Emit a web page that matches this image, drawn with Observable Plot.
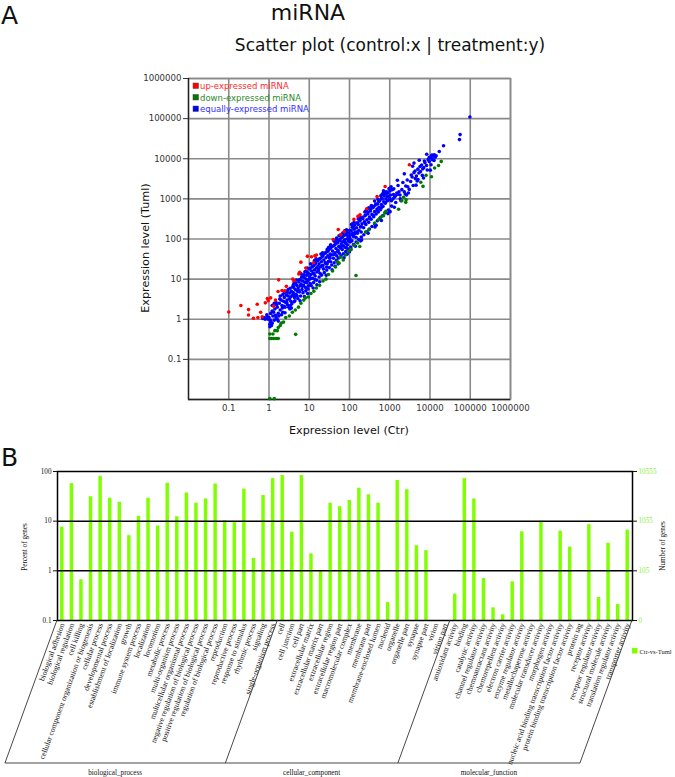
<!DOCTYPE html>
<html><head><meta charset="utf-8">
<script src="https://cdn.jsdelivr.net/npm/d3@7"></script>
<script src="https://cdn.jsdelivr.net/npm/@observablehq/plot@0.6"></script>
<style>
body{margin:0;background:#fff;}
#root{position:relative;width:675px;height:777px;overflow:hidden;background:#fff;}
#root svg{position:absolute;left:0;}
</style></head><body><div id="root"></div>
<script>
// ---------- Panel A data (control x, treatment y) ----------
const scatterTicks = [0.1, 1, 10, 100, 1000, 10000, 100000, 1000000];
const legendLabelsA = ["up-expressed miRNA", "down-expressed miRNA", "equally-expressed miRNA"];
const legendColorsA = ["#ff0000", "#007a00", "#0000ff"];
const legendTextColorsA = ["#ff2a2a", "#2a8a2a", "#3030ff"];

const upPoints = [[0.1,1.52],[0.2,2.2],[0.31,1.74],[0.31,1.28],[0.41,1.06],[0.51,2.37],[0.53,1.1],[0.62,1.5],[0.68,1.15],[0.81,2.56],[0.91,3.3],[0.96,2.9],[1.74,9.6],[1.68,4.9],[2.1,5.2],[2.45,5.1],[2.7,6.6],[3.9,10.1],[4.2,9.2],[5.5,13.5],[5.8,14.9],[6.2,26.5],[8.2,18.8],[9.0,37],[11.4,36],[12.8,25.5],[13.8,38],[15.1,40],[39.4,97],[52.6,173],[60,127],[74,154],[129,308],[162,370],[183,401],[268,567],[484,1150],[767,2040],[3080,7100],[1.3,2.1],[1.1,3.4],[1.45,3.0]];

const downPoints = [[1.05,0.33],[1.15,0.33],[1.3,0.33],[1.5,0.33],[1.7,0.33],[1.05,0.43],[1.25,0.43],[1.4,0.52],[1.6,0.52],[1.7,0.62],[1.9,0.7],[2.0,0.8],[2.3,0.85],[4.6,0.42],[1.05,0.0105],[1.35,0.0105],[2.6,1.1],[3.2,1.2],[3.8,1.5],[4.5,1.7],[5.4,2.0],[6.2,2.5],[7.3,3.0],[8.0,3.4],[9.5,3.6],[11,4.4],[13,5.0],[15,6.0],[18,7.0],[22,9.0],[26,10],[30,13],[38,16],[45,20],[55,25],[50,27],[60,35],[70,30],[80,40],[95,50],[145,12.3],[110,55],[130,70],[160,80],[180,65],[250,150],[300,170],[420,250],[520,300],[600,350],[700,380],[750,450],[800,490],[1660,550],[2550,950],[2000,900],[2500,820],[5900,2600],[6700,2050],[8000,3860],[10900,3570],[13000,5900],[16300,6800],[19000,8600],[2200,1100]];

const equalPoints = [[0.7,1.05],[0.75,1.1],[0.8,1.0],[0.85,1.05],[0.9,1.15],[0.95,1.0],[1.0,1.1],[0.88,1.3],
[1.05,0.65],[1.05,0.75],[1.1,0.85],[1.08,0.95],[1.15,0.7],[1.2,0.8],[1.25,1.2],[1.1,1.4],[1.2,1.6],[1.3,1.5],[1.35,0.95],[1.4,1.8],[1.45,1.25],
[1.5,1.1],[1.6,2.0],[1.7,1.4],[1.8,2.5],[1.9,1.7],[2.0,3.0],[2.1,2.2],[2.2,1.5],[2.3,2.8],[2.4,3.5],[2.5,2.0],[2.6,2.6],[2.7,4.0],[2.8,3.0],[2.9,2.3],[3.0,3.8],[1.6,1.0],[1.75,1.2],[2.05,1.3],[1.55,2.3],[1.85,3.2],[2.15,1.9],
[3.2,3.2],[3.3,4.5],[3.5,2.8],[3.6,5.0],[3.8,3.9],[4.0,4.6],[4.1,6.2],[4.3,3.5],[4.5,5.5],[4.7,4.2],[4.9,7.0],[5.1,5.0],[5.3,6.0],[5.5,8.5],[5.7,4.8],[5.9,6.8],[3.4,2.2],[4.4,2.9],[3.9,6.5],[5.0,3.8],[6.0,9.5],
[6.3,7.5],[6.6,5.5],[6.9,9.0],[7.2,7.0],[7.5,11],[7.8,8.3],[8.1,6.2],[8.4,10],[8.7,12.5],[9.0,8.8],[9.4,14],[9.8,9.8],[10.2,11.5],[10.6,7.8],[11,13],[11.5,16],[12,10.5],[6.8,12],[8.0,15.5],[9.5,6.8],[11.8,20],[10.0,18],
[12.5,14],[13,22],[13.5,17],[14,12],[14.5,26],[15,19],[15.5,15],[16,30],[16.5,21],[17,17.5],[17.5,24],[18,32],[19,20],[20,27],[21,36],[22,22],[23,30],[24,44],[25,26],[13.8,9.8],[18.5,14],[22.5,18],
[26,34],[27,48],[28,24],[29,38],[30,28],[31,55],[32,35],[33,42],[34,27],[35,62],[36,40],[38,50],[40,33],[42,70],[44,45],[46,58],[48,38],[50,80],[27,20],[41,90],[47,100],
[52,52],[54,65],[56,44],[58,90],[60,60],[62,75],[64,110],[66,55],[68,85],[70,68],[72,120],[75,95],[78,62],[80,78],[83,130],[86,100],[89,72],[92,115],[95,88],[98,140],[55,120],[85,60],
[102,105],[105,125],[110,160],[115,90],[120,140],[125,115],[130,175],[135,135],[140,150],[145,110],[150,190],[158,140],[165,230],[172,165],[180,280],[188,200],[195,150],[105,85],[170,310],[185,330],[125,200],
[205,240],[215,320],[225,190],[235,270],[245,380],[255,230],[270,300],[285,420],[300,260],[315,350],[330,500],[345,310],[360,410],[380,600],[400,360],[420,480],[440,700],[460,420],[480,560],[500,750],[350,650],[300,600],
[520,470],[540,620],[560,880],[590,540],[620,720],[650,1000],[680,650],[710,850],[740,1300],[770,780],[800,1000],[840,1500],[880,900],[920,1150],[960,1800],[990,1050],[600,1200],[700,1600],[900,1400],[860,1150],
[1050,1250],[1100,900],[1200,1000],[1300,1100],[1500,1400],[1600,1300],[1700,1500],[1800,1250],[2000,1700],[2300,1500],[2500,2100],[2800,2000],[1400,1200],[1150,1700],
[3300,2700],[3600,3500],[4000,4500],[4300,3200],[4600,3700],[5000,5500],[5300,4400],[5800,4800],[6200,7000],[6600,5600],[7000,6000],[7500,8000],[8200,6800],[9000,9500],[9600,8500],[4800,2800],
[10500,10500],[11000,12000],[12000,11500],[12800,12500],[13500,11000],[11500,9500],
[21700,21000],[54000,30000],[56000,40000],[98000,110000],
[1.2,2.2],[1.5,2.6],[1.7,0.9],[2.2,4.1],[2.5,1.45],[2.85,4.7],[3.1,2.0],[3.35,5.9],[3.7,2.45],[4.05,7.3],[4.25,2.75],[4.6,8.0],[5.2,3.3],[5.6,9.6],[6.1,3.8],[6.5,11.2],[7.0,4.6],[7.4,12.8],[8.2,5.1],[8.8,15.2],[9.3,5.7],[10.5,18.5],[11.2,6.9],[12.2,21],[12.8,8.2],[14.2,24],[15.2,9.4],[16.4,29],[17.6,11.3],[19,33],[20.3,12.6],[22,39],[23.6,14.5],[25.5,45],[27.2,16.8],[29.4,50],[31.5,19.4],[33.5,58],[36.2,22.5],[38.5,66],[41.5,25.5],[44.5,75],[47.5,29.5],[50.5,86],[53.5,33.5],[57.5,98],[61.5,38],[65.5,112],[70.5,43],[75.5,125],[80.5,49],[86.5,145],[92.5,56],[101,165],[108,63],[117,195],[126,73],[136,225],[146,84],[156,255],[169,97],[182,295],[196,112],[212,345],[227,128],[247,395],[266,152],[287,465],[312,178],[333,550],[362,205],[392,640],[422,240],[452,740],[492,285],[532,880],[572,335],[622,1030],[672,385],[722,1180],[782,455],[852,1380],[922,525],[1010,1580],[1110,660],[1260,1780],[1410,810],[1610,2150],[1820,1010],[2120,2550],[2420,1320],[2720,2950],[3050,1720],[3420,3950],[3820,2150],[4250,4950],[5050,3050],[5650,6400],[6450,3850],[7250,8800],[8550,5250],[9550,10800],[10600,7100],[11300,12400],[12600,9100],[14200,11800],[17000,15200],
[2.35,2.1],[2.75,2.65],[3.45,3.6],[4.35,4.1],[5.45,5.2],[6.75,6.6],[8.6,8.1],[10.8,10.2],[13.2,13.5],[16.8,16.2],[20.5,21.5],[25.8,24.5],[32.5,33],[40.5,41],[51,49],[63.5,66],[79,82],[99,96],[124,128],[158,152],[198,205],[248,240],[312,322],[395,385],[495,510],[625,610],[785,800],[990,960],[1240,1280],
[1.9,3.8],[2.6,5.0],[3.3,1.8],[4.8,9.5],[5.9,2.9],[7.8,15],[9.1,4.4],[10.8,24],[12.5,6.0],[14.8,32],[18.2,8.6],[21.5,45],[26.5,12.5],[30.5,62],[37,17],[43,88],[52,24],[60,125],[73,34],[84,170],[100,48],[118,240],[140,66],[165,320],[200,95],[240,470],[290,140],[350,680],[430,200],[510,980],[620,290],[740,1500],[900,430],[1080,2000],[1300,620],[1550,2900],[1900,900],[2300,4200],[2900,1400],[3700,6500],[4500,2200],[5400,9200],[6900,3300],[8300,13000],[10200,5200],
[3.0,5.5],[3.6,1.9],[7.6,3.7],[15.5,7.2],[28,55],[44,21],[68,140],[88,42],[130,260],[190,90],[260,520],[460,220],[680,1350],[1020,480],[2600,1250],[4000,7800],
[1.35,2.5],[2.4,4.6],[4.2,8.5],[6.3,13.5],[8.9,19],[13.5,29],[19.5,42],[34,72],[48,105],[76,160],[112,230],[175,370],[280,560],[420,880],[650,1300]];

// ---------- Panel B data (GO classification) ----------
const bpCats = ["biological adhesion","biological regulation","cell killing","cellular component organization or biogenesis","cellular process","developmental process","establishment of localization","growth","immune system process","localization","locomotion","metabolic process","multi-organism process","multicellular organismal process","negative regulation of biological process","positive regulation of biological process","regulation of biological process","reproduction","reproductive process","response to stimulus","rhythmic process","signaling","single-organism process"];
const bpValues = [7.6,57,0.66,31,80,29,24,5.1,12.5,29,8.0,58,12.3,37,23,28,56,10.2,9.3,44,1.77,33,72];
const ccCats = ["cell","cell junction","cell part","extracellular matrix","extracellular matrix part","extracellular region","extracellular region part","macromolecular complex","membrane","membrane part","membrane-enclosed lumen","nucleoid","organelle","organelle part","synapse","synapse part","virion","virion part"];
const ccValues = [83,6.0,83,2.2,1.0,23,19.5,26,46,34,23,0.23,66,43,3.2,2.55,0,0];
const mfCats = ["antioxidant activity","binding","catalytic activity","channel regulator activity","chemoattractant activity","chemorepellent activity","electron carrier activity","enzyme regulator activity","metallochaperone activity","molecular transducer activity","morphogen activity","nucleic acid binding transcription factor activity","protein binding transcription factor activity","protein tag","receptor activity","receptor regulator activity","structural molecule activity","translation regulator activity","transporter activity"];
const mfValues = [0.34,72,28,0.70,0.18,0.13,0.60,6.1,0,10,0,6.3,3.0,0,8.5,0.29,3.6,0.21,6.6];
const groupNames = ["biological_process","cellular_component","molecular_function"];
const percentTicks = [0.1, 1, 10, 100];
const geneCountLabels = ["0", "105", "1055", "10555"];
const seriesName = "Ctr-vs-Tuml";

// ---------- build ----------
const root = document.getElementById("root");
const SANS = "DejaVu Sans";
const SERIF = "Liberation Serif";

const plotA = Plot.plot({
  width: 675, height: 440,
  marginLeft: 188, marginRight: 165, marginTop: 78, marginBottom: 41,
  style: {background: "transparent", fontFamily: SANS, fontSize: "8.6px", color: "#333"},
  x: {type: "log", domain: [0.01, 1e6], label: null},
  y: {type: "log", domain: [0.01, 1e6], label: null},
  marks: [
    Plot.ruleX(scatterTicks, {stroke: "#8a8a8a", strokeWidth: 1.6}),
    Plot.ruleY(scatterTicks, {stroke: "#8a8a8a", strokeWidth: 1.6}),
    Plot.frame({stroke: "#8a8a8a", strokeWidth: 1.6}),
    Plot.ruleX([0.01], {stroke: "#222", strokeWidth: 1.3}),
    Plot.ruleY([0.01], {stroke: "#222", strokeWidth: 1.3}),
    Plot.axisX({ticks: scatterTicks, tickSize: 0, tickPadding: 5, tickFormat: d => String(d), label: null}),
    Plot.axisY({ticks: scatterTicks, tickSize: 5, tickPadding: 2, tickFormat: d => String(d), label: null}),
    Plot.dot(equalPoints, {x: d => d[0], y: d => d[1], r: 1.8, fill: legendColorsA[2], stroke: "none"}),
    Plot.dot(upPoints, {x: d => d[0], y: d => d[1], r: 1.8, fill: legendColorsA[0], stroke: "none"}),
    Plot.dot(downPoints, {x: d => d[0], y: d => d[1], r: 1.8, fill: legendColorsA[1], stroke: "none"})
  ]
});
plotA.style.top = "0px";
root.appendChild(plotA);

const allCats = bpCats.concat(ccCats, mfCats);
const allVals = bpValues.concat(ccValues, mfValues);
const goData = allCats.map((c, i) => ({cat: c, value: allVals[i]})).filter(d => d.value > 0);
const rightMap = new Map(percentTicks.map((t, i) => [t, geneCountLabels[i]]));

const BTOP = 440;
const plotB = Plot.plot({
  width: 675, height: 337,
  marginTop: 31, marginBottom: 157, marginLeft: 57, marginRight: 43,
  style: {background: "transparent", fontFamily: SERIF, fontSize: "7.2px", color: "#111"},
  x: {domain: allCats, paddingInner: 0.64, paddingOuter: 0.32, label: null},
  y: {type: "log", domain: [0.1, 100], label: null},
  marks: [
    Plot.barY(goData, {x: "cat", y1: 0.1, y2: "value", fill: "#7fff00"}),
    Plot.ruleY([1, 10], {stroke: "#000", strokeWidth: 1.5}),
    Plot.frame({stroke: "#000", strokeWidth: 1.5}),
    Plot.axisX({tickSize: 0, tickPadding: 3, tickRotate: -70, fontSize: 7.8, fill: "#111", label: null}),
    Plot.axisY({ticks: percentTicks, tickFormat: d => String(d), tickSize: 4, tickPadding: 2, label: null}),
    Plot.axisY({anchor: "right", ticks: percentTicks, tickFormat: d => rightMap.get(d), tickSize: 4, tickPadding: 2, fill: "#8cf03c", label: null})
  ]
});
plotB.style.top = BTOP + "px";
root.appendChild(plotB);

// group brackets under category labels (positions from Plot's own scales)
const xs = plotB.scale("x"), ys = plotB.scale("y");
const bw = xs.bandwidth;
const step = xs.apply(allCats[1]) - xs.apply(allCats[0]);
const edge = i => i < allCats.length ? xs.apply(allCats[i]) - (step - bw) / 2 : xs.apply(allCats[allCats.length - 1]) + bw + (step - bw) / 2;
const bounds = [0, bpCats.length, bpCats.length + ccCats.length, allCats.length].map(edge);
const yAxis = ys.apply(0.1);
const yBottom = 763 - BTOP;
const slant = (yBottom - yAxis) / Math.tan(70 * Math.PI / 180);
const gB = d3.select(plotB).append("g").attr("fill", "none").attr("stroke", "#333").attr("stroke-width", 0.9);
bounds.forEach(b => gB.append("line").attr("x1", b).attr("y1", yAxis).attr("x2", b - slant).attr("y2", yBottom));
gB.append("line").attr("x1", bounds[0] - slant).attr("x2", bounds[3] - slant).attr("y1", yBottom).attr("y2", yBottom);
const gT = d3.select(plotB).append("g").attr("font-family", SERIF).attr("font-size", 7.2).attr("fill", "#111").attr("text-anchor", "middle");
groupNames.forEach((g, i) => gT.append("text").attr("x", (bounds[i] + bounds[i + 1]) / 2 - slant).attr("y", yBottom + 12).text(g));

// ---------- overlay texts ----------
const ov = d3.select(root).append("svg").attr("width", 675).attr("height", 777).style("top", "0px").style("pointer-events", "none");
function txt(s, x, y, o = {}) {
  const t = ov.append("text").attr("x", x).attr("y", y).text(s)
    .attr("font-family", o.family || SANS).attr("font-size", o.size || 12)
    .attr("fill", o.fill || "#111").attr("text-anchor", o.anchor || "start");
  if (o.rotate) t.attr("transform", `rotate(${o.rotate},${x},${y})`);
  return t;
}
txt("A", 1, 24, {size: 25});
txt("miRNA", 308, 20, {size: 22, anchor: "middle"});
txt("Scatter plot (control:x | treatment:y)", 390, 51, {size: 17, anchor: "middle"});
txt("Expression level (Tuml)", 149, 248, {size: 11.2, anchor: "middle", rotate: -90});
txt("Expression level (Ctr)", 349, 434, {size: 11.2, anchor: "middle"});
legendLabelsA.forEach((l, i) => {
  ov.append("rect").attr("x", 193).attr("y", 83 + i * 11.5).attr("width", 5.5).attr("height", 5.5).attr("fill", legendColorsA[i]).attr("stroke", "#444").attr("stroke-width", 0.5);
  txt(l, 200, 89 + i * 11.5, {size: 8.5, fill: legendTextColorsA[i]});
});
txt("B", 1, 466, {size: 25});
txt("Percent of genes", 27, 547, {size: 7.2, family: SERIF, anchor: "middle", rotate: -90});
txt("Number of genes", 665, 546, {size: 7.2, family: SERIF, anchor: "middle", rotate: -90});
ov.append("rect").attr("x", 632).attr("y", 648).attr("width", 5.5).attr("height", 5.5).attr("fill", "#7fff00");
txt(seriesName, 639.5, 654, {size: 6.5, family: SERIF, fill: "#222"});
</script>
</body></html>
